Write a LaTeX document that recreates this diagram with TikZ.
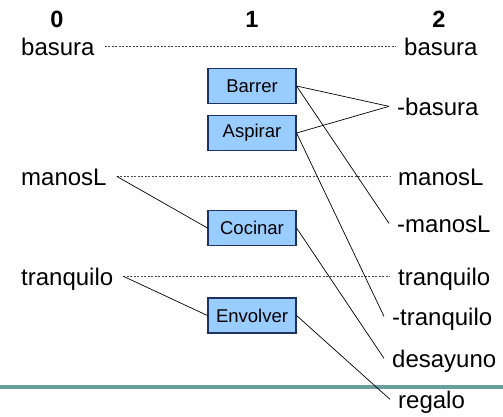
\documentclass[tikz,border=0pt]{standalone}
\usepackage{fontspec}
\setmainfont{Liberation Sans}
\begin{document}
\begin{tikzpicture}[x=1pt,y=-1pt,
  colhead/.style={font=\fontsize{23.5}{26}\selectfont\bfseries, anchor=base, inner sep=0pt},
  leftlbl/.style={font=\fontsize{24}{28}\selectfont, anchor=base west, inner xsep=10pt, inner ysep=0pt, text height=17.3pt, text depth=0pt},
  rightlbl/.style={font=\fontsize{24}{28}\selectfont, anchor=base west, inner xsep=8pt, inner ysep=0pt, text height=17.3pt, text depth=0pt},
  actbox/.style={draw=boxline, fill=boxfill, line width=1.1pt, minimum width=88pt, minimum height=35pt, inner sep=0pt, font=\fontsize{18.5}{20}\selectfont},
  persist/.style={dash pattern=on 2pt off 1.5pt, line width=0.6pt, black!70},
  link/.style={line width=0.7pt, black}]
\definecolor{boxfill}{HTML}{99CCFF}
\definecolor{boxline}{HTML}{1C3360}
\definecolor{rule}{HTML}{6A9E9E}
\useasboundingbox (0,0) rectangle (503,416);

% separator rule
\draw[rule, line width=4pt] (0,387) -- (503,387);

% layer headers
\node[colhead] (h0) at (57,27) {0};
\node[colhead] (h1) at (252,27) {1};
\node[colhead] (h2) at (439,27) {2};

% layer 0 facts
\node[leftlbl] (l0bas) at (11,55) {basura};
\node[leftlbl] (l0man) at (11,185) {manosL};
\node[leftlbl] (l0tra) at (11,285) {tranquilo};

% layer 1 actions
\node[actbox] (barrer) at (252,86) {Barrer};
\node[actbox] (aspirar) at (252,133) {Aspirar};
\node[actbox] (cocinar) at (252,228) {Cocinar};
\node[actbox] (envolver) at (252,315.5) {Envolver};

% layer 2 facts
\node[rightlbl] (r2bas) at (396,55) {basura};
\node[rightlbl] (r2nbas) at (389,115) {-basura};
\node[rightlbl] (r2man) at (390,185) {manosL};
\node[rightlbl] (r2nman) at (389,232) {-manosL};
\node[rightlbl] (r2tra) at (390,285) {tranquilo};
\node[rightlbl] (r2ntra) at (384,325) {-tranquilo};
\node[rightlbl] (r2des) at (384,367) {desayuno};
\node[rightlbl] (r2reg) at (390,408) {regalo};

% persistence links
\draw[persist] (l0bas.east) -- (r2bas.west);
\draw[persist] (l0man.east) -- (r2man.west);
\draw[persist] (l0tra.east) -- (r2tra.west);

% preconditions
\draw[link] (l0man.east) -- (cocinar.west);
\draw[link] (l0tra.east) -- (envolver.west);

% effects
\draw[link] (barrer.east) -- (r2nbas.west);
\draw[link] (aspirar.east) -- (r2nbas.west);
\draw[link] (barrer.east) -- (r2nman.west);
\draw[link] (aspirar.east) -- (r2ntra.west);
\draw[link] (cocinar.east) -- (r2des.west);
\draw[link] (envolver.east) -- (r2reg.west);
\end{tikzpicture}
\end{document}
